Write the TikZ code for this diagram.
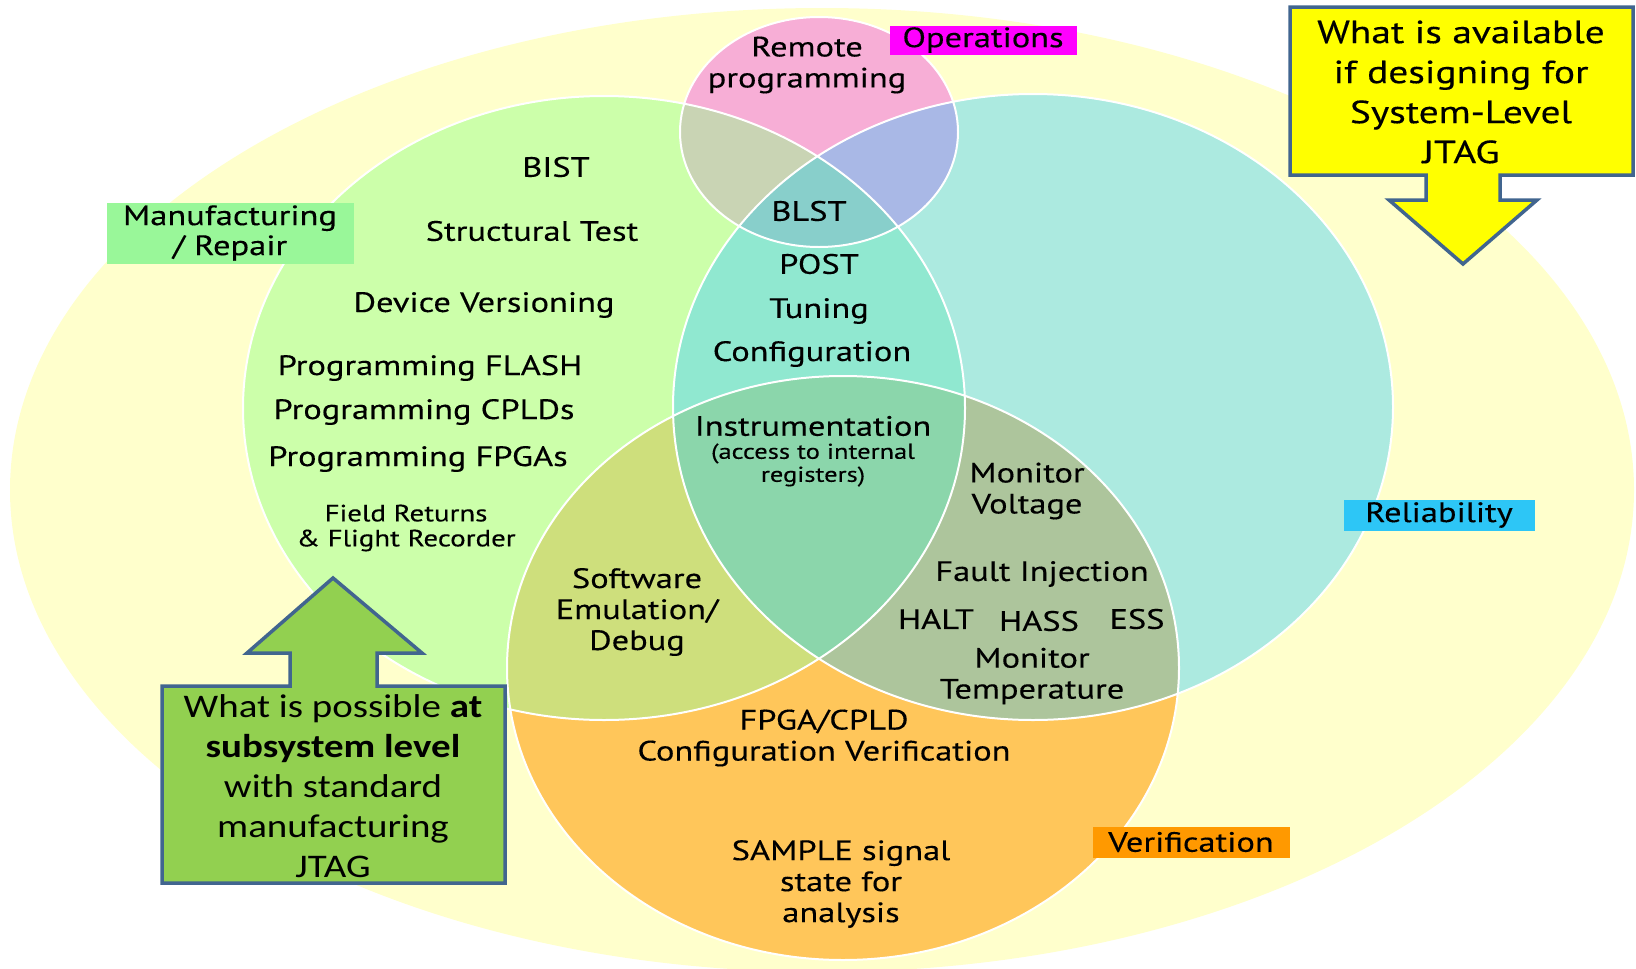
\documentclass[tikz,border=0pt]{standalone}
\usepackage{fontspec}
\setmainfont[FakeStretch=1.23,FakeBold=0.3]{PT Sans}
\newfontfamily\boxfont[FakeStretch=1.18]{Carlito}
\definecolor{bgyellow}{HTML}{FFFFCC}
\definecolor{mfggreen}{HTML}{CCFFAA}
\definecolor{relcyan}{HTML}{ACEAE0}
\definecolor{opspink}{HTML}{F7AED6}
\definecolor{verorange}{HTML}{FFC65A}
\definecolor{mixgc}{HTML}{90E8D0}
\definecolor{mixgp}{HTML}{C9D4B4}
\definecolor{mixcp}{HTML}{A9B8E6}
\definecolor{mixgcp}{HTML}{88CFCB}
\definecolor{mixgo}{HTML}{CEDF7C}
\definecolor{mixco}{HTML}{ADC59C}
\definecolor{mixgco}{HTML}{8BD6AB}
\definecolor{tagmfg}{HTML}{99F799}
\definecolor{tagops}{HTML}{FF00FF}
\definecolor{tagrel}{HTML}{2DC6F6}
\definecolor{tagver}{HTML}{FF9900}
\definecolor{calloutgreen}{HTML}{92D050}
\definecolor{calloutyellow}{HTML}{FFFF00}
\definecolor{calloutblue}{HTML}{41658F}
\begin{document}
\begin{tikzpicture}[x=1pt,y=-1pt,
  lbl/.style={align=center,inner sep=0pt,text=black,font=\fontsize{28}{31}\selectfont},
  lblsmall/.style={lbl,font=\fontsize{23.5}{25}\selectfont},
  tag/.style={inner sep=0pt,align=center,text=black,font=\fontsize{28}{30}\selectfont},
  callout/.style={draw=calloutblue,line width=3.5pt,line join=miter}]
\useasboundingbox (0,0) rectangle (1636,969);
\def\mfgarea{(604,408) ellipse [x radius=361, y radius=312]}
\def\relarea{(1033,407) ellipse [x radius=360, y radius=313]}
\def\opsarea{(819,132) ellipse [x radius=139, y radius=115]}
\def\verarea{(843,668) ellipse [x radius=336, y radius=292]}
\fill[bgyellow] (822,490) ellipse [x radius=812, y radius=482];
\fill[mfggreen] \mfgarea;
\fill[relcyan] \relarea;
\fill[opspink] \opsarea;
\fill[verorange] \verarea;
\begin{scope}
  \clip \mfgarea;
  \fill[mixgc] \relarea;
  \fill[mixgp] \opsarea;
  \fill[mixgo] \verarea;
\end{scope}
\begin{scope}
  \clip \relarea;
  \fill[mixcp] \opsarea;
  \fill[mixco] \verarea;
\end{scope}
\begin{scope}
  \clip \mfgarea;
  \clip \relarea;
  \fill[mixgcp] \opsarea;
  \fill[mixgco] \verarea;
\end{scope}
\draw[white,line width=2pt] \mfgarea \relarea \opsarea \verarea;
% category tags
\node[tag,fill=tagmfg,minimum width=247,minimum height=61] (mfgtag) at (230,233) {Manufacturing\\/ Repair};
\node[tag,fill=tagops,minimum width=187,minimum height=29] (opstag) at (983,40) {Operations};
\node[tag,fill=tagrel,minimum width=191,minimum height=31] (reltag) at (1439,515) {Reliability};
\node[tag,fill=tagver,minimum width=197,minimum height=31] (vertag) at (1191,842) {Verification};
% manufacturing / repair
\node[lbl] (bist) at (556,167) {BIST};
\node[lbl] (structural) at (532,231) {Structural Test};
\node[lbl] (versioning) at (484,305) {Device Versioning};
\node[lbl] (flash) at (430,368) {Programming FLASH};
\node[lbl] (cplds) at (424,412) {Programming CPLDs};
\node[lbl] (fpgas) at (418,459) {Programming FPGAs};
\node[lblsmall] (field) at (406,528) {Field Returns\\\& Flight Recorder};
% operations
\node[lbl] (remote) at (807,65) {Remote\\programming};
% centre
\node[lbl] (blst) at (809,211) {BLST};
\node[lbl] (post) at (819,264) {POST};
\node[lbl] (tuning) at (819,311) {Tuning};
\node[lbl] (config) at (812,354) {Configuration};
\node[lbl] (instr) at (813,426) {Instrumentation};
\node[lblsmall,font=\fontsize{21.5}{23}\selectfont] (access) at (813,465) {(access to internal\\registers)};
% reliability
\node[lbl] (voltage) at (1027,491) {Monitor\\Voltage};
\node[lbl] (fault) at (1042,574) {Fault Injection};
\node[lbl] (halt) at (936,619) {HALT};
\node[lbl] (hass) at (1039,621) {HASS};
\node[lbl] (ess) at (1137,619) {ESS};
\node[lbl] (temp) at (1032,676) {Monitor\\Temperature};
% verification
\node[lbl] (software) at (637,612) {Software\\Emulation/\\Debug};
\node[lbl] (cfgver) at (824,738) {FPGA/CPLD\\Configuration Verification};
\node[lbl] (sample) at (841,884) {SAMPLE signal\\state for\\analysis};
% callouts
\draw[callout,fill=calloutgreen] (162,686) -- (290,686) -- (290,653) -- (247,653) -- (333,578)
  -- (422,653) -- (377,653) -- (377,686) -- (505,686) -- (505,883) -- (162,883) -- cycle;
\node[align=center,inner sep=0pt,font=\boxfont\fontsize{33}{40}\selectfont] (possible) at (333,786)
  {What is possible \textbf{at}\\\textbf{subsystem level}\\with standard\\manufacturing\\JTAG};
\draw[callout,fill=calloutyellow] (1290,7) -- (1633,7) -- (1633,175) -- (1500,175) -- (1500,200)
  -- (1537,200) -- (1463,264) -- (1389,200) -- (1426,200) -- (1426,175) -- (1290,175) -- cycle;
\node[align=center,inner sep=0pt,font=\fontsize{32}{40}\selectfont] (available) at (1461,92)
  {What is available\\if designing for\\System-Level\\JTAG};
\end{tikzpicture}
\end{document}
